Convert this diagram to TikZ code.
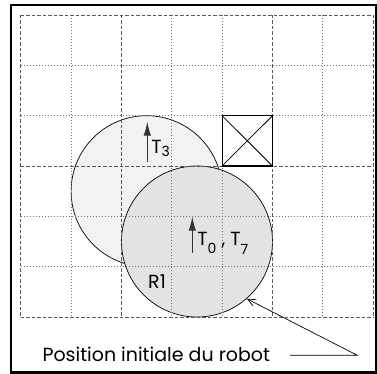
\documentclass[tikz,border=0pt]{standalone}
\usepackage{fontspec}
\setmainfont{Poppins}
\usetikzlibrary{arrows.meta}
\newcommand\lowsub[2]{\raisebox{-#1}{\fontsize{14}{14}\selectfont #2}}
\begin{document}
\begin{tikzpicture}[x=1pt,y=-1pt,
  gridA/.style={black!65, line width=0.9pt, dash pattern=on 3.5pt off 2pt},
  gridB/.style={black!55, line width=0.9pt, dash pattern=on 1pt off 2pt},
  lbl/.style={inner sep=0pt, anchor=base west, font=\fontsize{19}{19}\selectfont},
  disc/.style={circle, draw=black, line width=0.7pt, minimum size=151pt, inner sep=0pt},
  heading/.style={-{Latex[length=14pt,width=7.5pt]}, line width=1.1pt, black!80},
  pointer/.style={-{Straight Barb[length=8pt,width=7pt]}, line width=0.7pt}]
\useasboundingbox (0,0) rectangle (377,374);
\draw[line width=2.3pt] (11.2,5) rectangle (376,372.5);
% robots
\node[disc, fill=black!5] (c1) at (146.6,191.2) {};
\node[disc, fill=black!11] (c2) at (197,241.5) {};
% grid
\foreach \x in {20.7,121.4,272.5,373.2} \draw[gridA] (\x,15) -- (\x,317);
\foreach \x in {71.1,171.8,222.1,322.9} \draw[gridB] (\x,15) -- (\x,317);
\foreach \y in {15,166,317} \draw[gridA] (20.7,\y) -- (373.2,\y);
\foreach \y in {65.3,115.7,216.3,266.7} \draw[gridB] (20.7,\y) -- (373.2,\y);
% obstacle
\node[draw, line width=1.1pt, minimum width=50.4pt, minimum height=50.3pt, inner sep=0pt, fill=white] (box) at (247.3,140.85) {};
\draw[line width=0.8pt] (box.north west) -- (box.south east);
\draw[line width=0.8pt] (box.north east) -- (box.south west);
% headings
\coordinate (a3s) at (147.3,161.7);
\coordinate (a3e) at (147.3,121.7);
\draw[heading] (a3s) -- (a3e);
\coordinate (a0s) at (192.3,253);
\coordinate (a0e) at (192.3,216.7);
\draw[heading] (a0s) -- (a0e);
\node[lbl] (t3) at (151.2,153.3) {T\lowsub{3.4pt}{3}};
\node[lbl] (t0) at (197.2,245) {T\lowsub{8pt}{0} , T\lowsub{9pt}{7}};
\node[lbl] (r1) at (148,288.3) {R1};
% caption
\node[lbl] (txt) at (42.3,361.7) {Position initiale du robot};
\coordinate (ls) at (290,355.3);
\coordinate (lb) at (357.3,355.3);
\draw[pointer] (ls) -- (lb) -- (c2.-49);
\end{tikzpicture}
\end{document}
